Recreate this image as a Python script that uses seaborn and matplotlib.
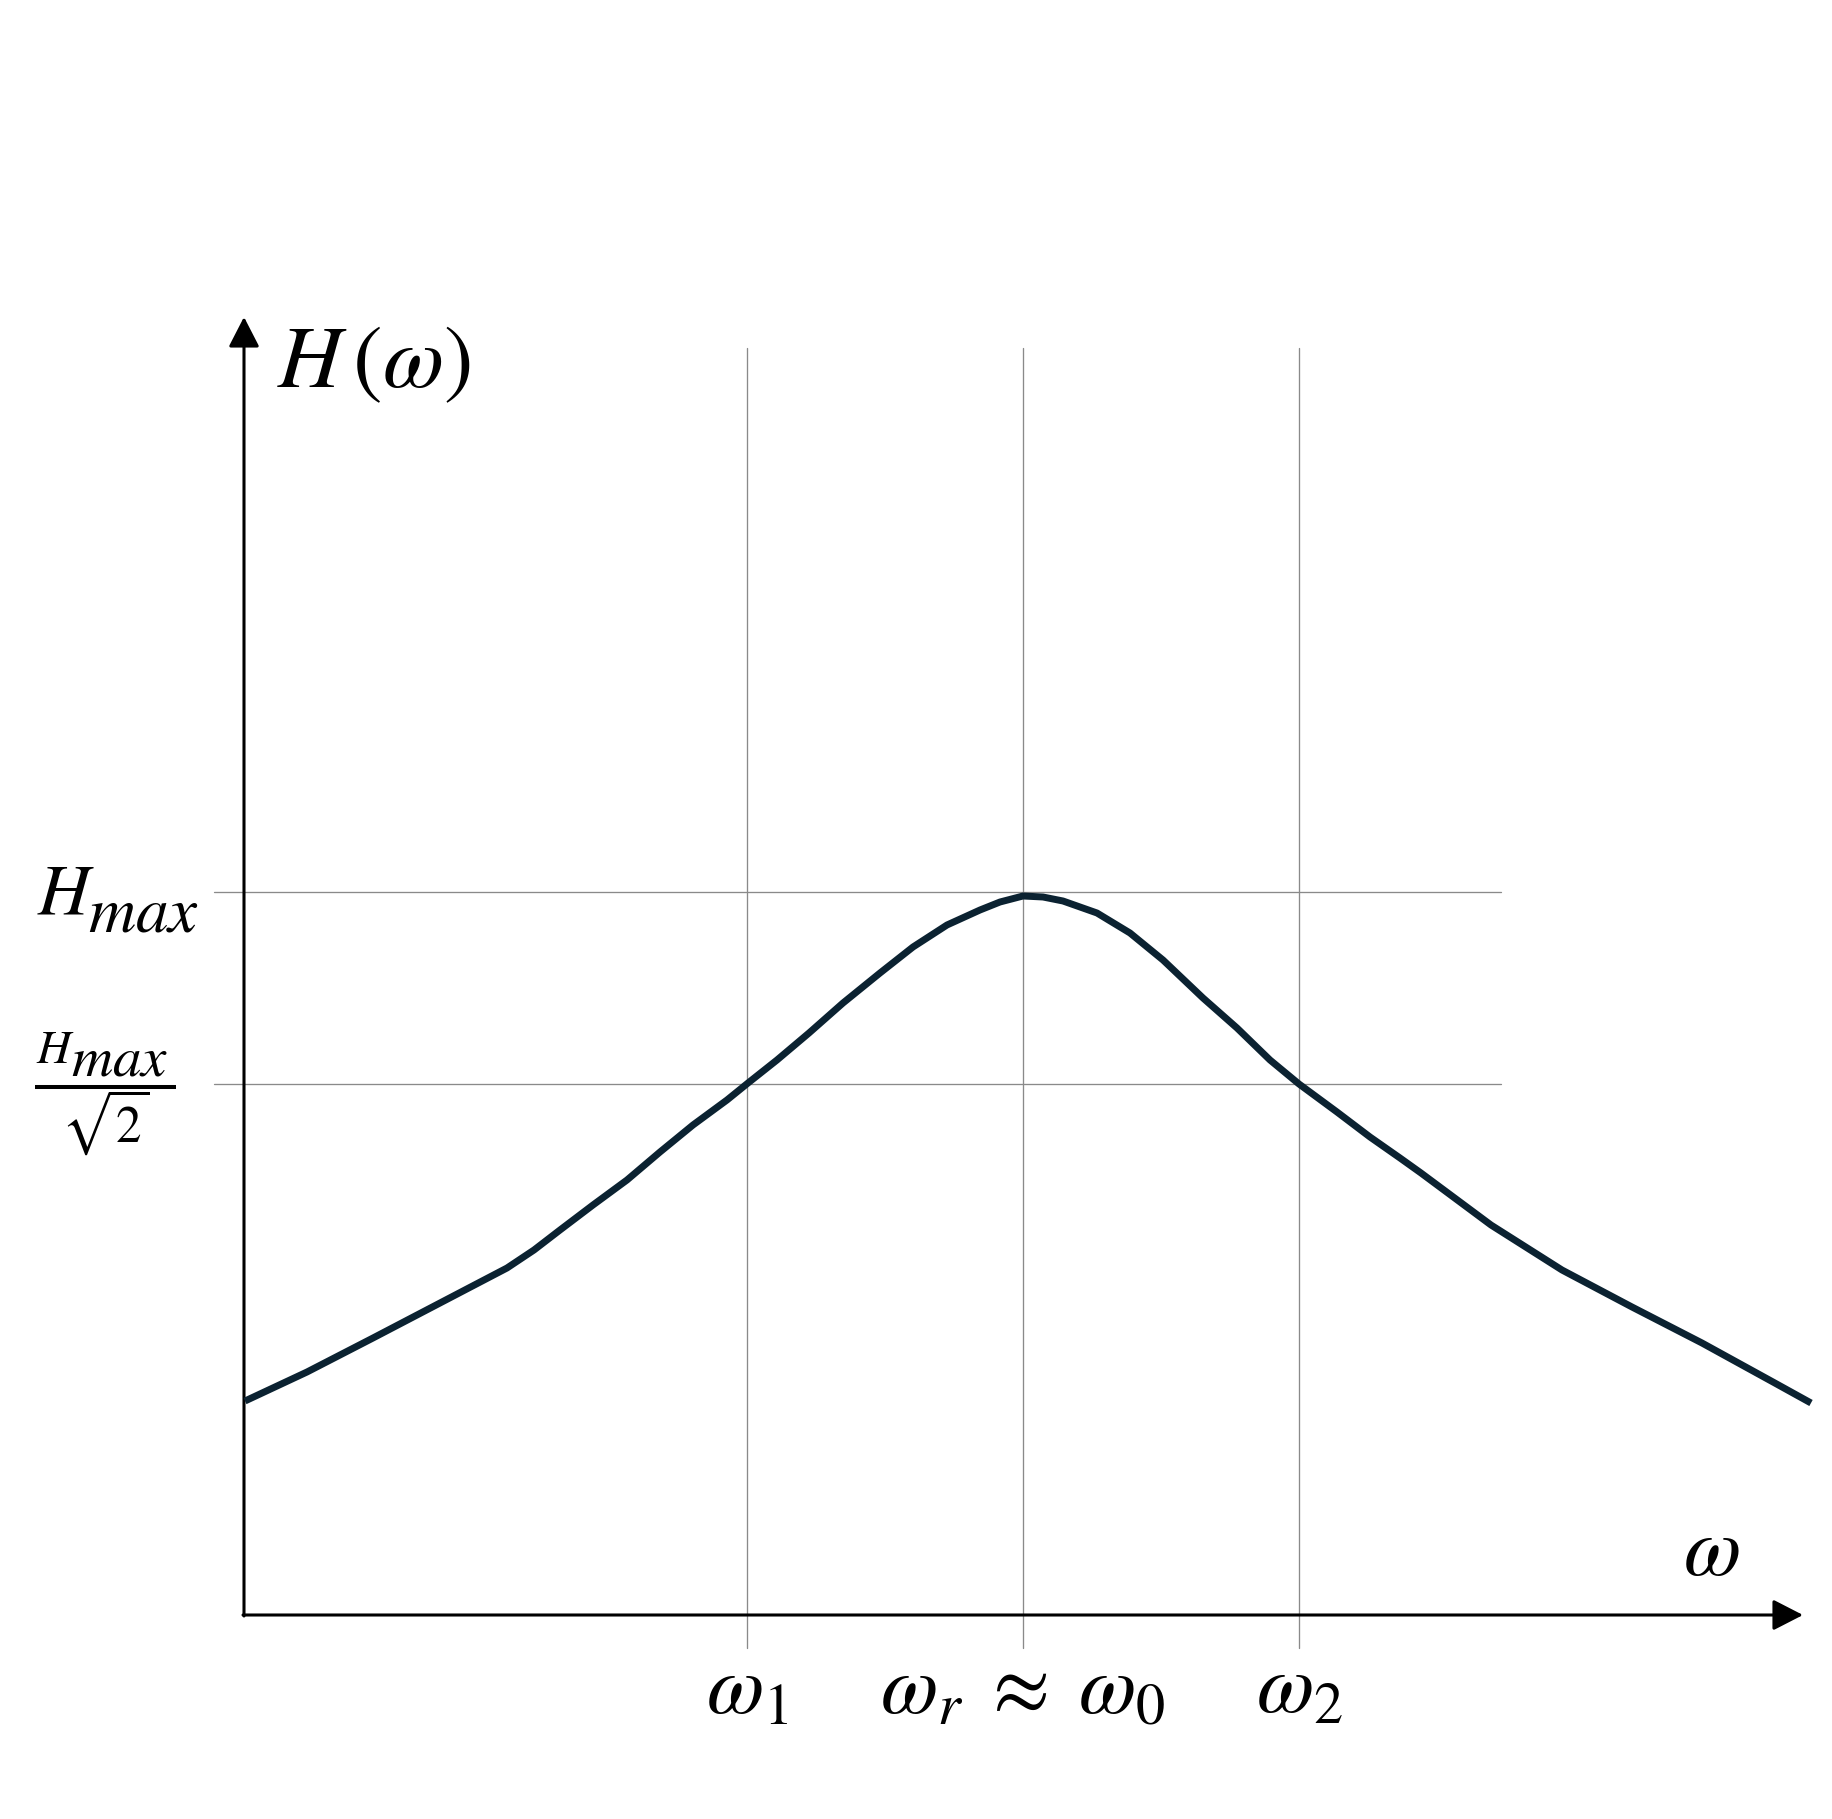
import numpy as np
import pandas as pd
import matplotlib
matplotlib.use("Agg")
import matplotlib.pyplot as plt
import seaborn as sns

# curve (omega, H)
omega = [0.01, 0.63, 1.29, 1.96, 2.63, 2.90, 3.16, 3.49, 3.83, 4.16, 4.49, 4.83,
         5.04, 5.33, 5.65, 5.99, 6.36, 6.69, 7.03, 7.36, 7.56, 7.79, 7.99, 8.19,
         8.53, 8.86, 9.19, 9.59, 9.93, 10.26, 10.55, 10.93, 11.26, 11.56, 11.77,
         12.47, 13.18, 13.88, 14.58, 15.29, 15.67]
H = [2.14, 2.43, 2.77, 3.12, 3.47, 3.65, 3.85, 4.10, 4.35, 4.63, 4.90, 5.15,
     5.32, 5.55, 5.82, 6.12, 6.42, 6.68, 6.90, 7.05, 7.13, 7.19, 7.18, 7.14,
     7.02, 6.82, 6.55, 6.17, 5.87, 5.55, 5.31, 5.03, 4.78, 4.57, 4.42,
     3.90, 3.45, 3.08, 2.72, 2.33, 2.12]

# marked frequencies and levels
w_ticks = [5.03, 7.79, 10.55]
w_labels = [r"$\omega_1$", r"$\omega_r\;\approx\;\omega_0$", r"$\omega_2$"]
h_ticks = [7.23, 5.31]

sns.set_style("white")
plt.rcParams["mathtext.fontset"] = "stix"
plt.rcParams["text.color"] = "black"

fig = plt.figure(figsize=(18.32, 18.19), dpi=100)
ax = fig.add_axes([0, 0, 1, 1])

# grid lines
for w in w_ticks:
    ax.plot([w, w], [-0.33, 12.67], color="#8a8a8a", lw=0.95, zorder=1)
for h in h_ticks:
    ax.plot([-0.30, 12.57], [h, h], color="#8a8a8a", lw=0.95, zorder=1)

# axes with arrows
arrow = dict(arrowstyle="-|>,head_length=1.85,head_width=0.95", lw=2.2,
             color="black", shrinkA=0, shrinkB=0)
ax.annotate("", xy=(0, 12.98), xytext=(0, -0.01), arrowprops=arrow, zorder=3)
ax.annotate("", xy=(15.59, 0), xytext=(-0.01, 0), arrowprops=arrow, zorder=3)

# response curve
df = pd.DataFrame({"omega": omega, "H": H})
sns.lineplot(data=df, x="omega", y="H", ax=ax, color="#0b2231", lw=5.0,
             sort=False, zorder=4, solid_joinstyle="round", solid_capstyle="butt")
ax.set_xlim(-2.44, 15.88)
ax.set_ylim(-2.04, 16.15)
ax.axis("off")

# labels
ax.text(0.33, 12.28, r"$H\,(\omega)$", fontsize=64, ha="left", va="baseline")
ax.text(14.39, 0.40, r"$\omega$", fontsize=60, ha="left", va="baseline")

# H_max
ax.text(-2.07, 7.00, r"$H$", fontsize=52, ha="left", va="baseline")
ax.text(-1.56, 6.83, r"$max$", fontsize=47, ha="left", va="baseline")

# H_max / sqrt(2)
ax.text(-2.08, 5.52, r"$H$", fontsize=34, ha="left", va="baseline")
ax.text(-1.73, 5.40, r"$max$", fontsize=41, ha="left", va="baseline")
ax.plot([-2.09, -0.68], [5.28, 5.28], color="black", lw=2.9, solid_capstyle="butt")
ax.text(-1.39, 4.73, r"$\sqrt{2}$", fontsize=37, ha="center", va="baseline")

for w, lab in zip(w_ticks, w_labels):
    ax.text(w, -0.98, lab, fontsize=60, ha="center", va="baseline")

fig.savefig("out.png", dpi=100)
